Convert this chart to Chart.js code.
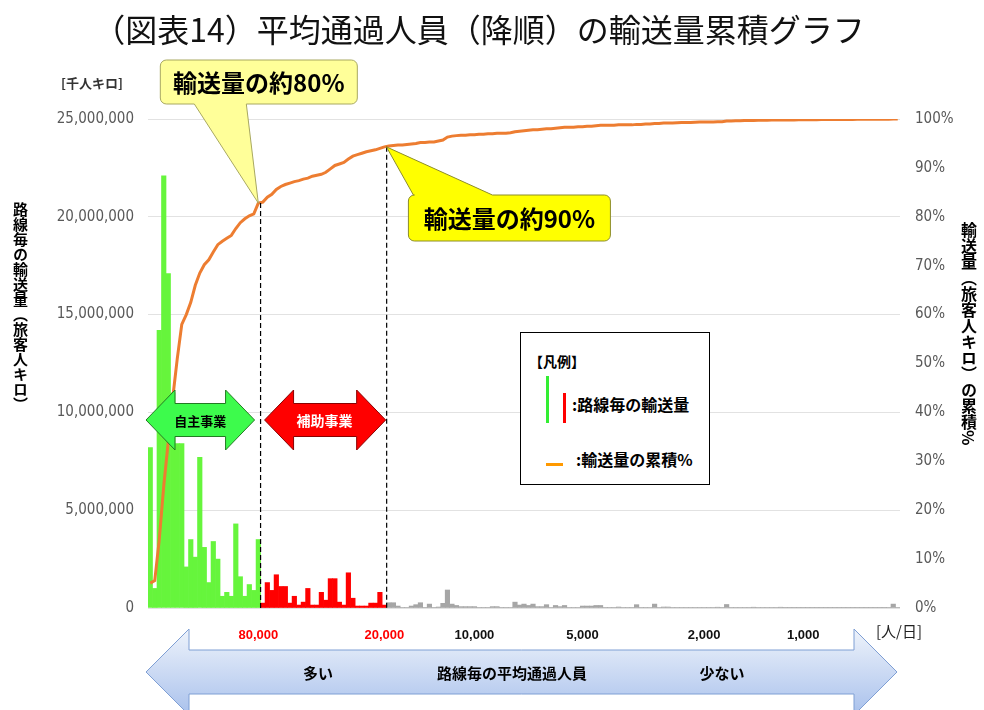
<!DOCTYPE html>
<html>
<head>
<meta charset="utf-8">
<script src="https://cdn.jsdelivr.net/npm/chart.js@4.4.0/dist/chart.umd.min.js"></script>
<style>
  body { margin: 0; background: #fff; font-family: 'Noto Sans CJK JP', sans-serif; }
  #wrap { position: relative; width: 984px; height: 710px; overflow: hidden; }
  #c { position: absolute; left: 0; top: 0; }
  .abs { position: absolute; white-space: nowrap; }
  #title { left: -13px; width: 984px; top: 6px; text-align: center; font-size: 32px; line-height: 44px; color: #111; font-weight: 400; }
  #unit { left: 61px; top: 74px; font-size: 13px; font-weight: bold; color: #333; line-height: 18px; }
  .vt { position: absolute; writing-mode: vertical-rl; font-weight: bold; color: #000; line-height: 16px; }
  #legend { left: 520px; top: 332px; width: 188px; height: 151px; border: 1.5px solid #000; background: #fff; }
  #legend div { position: absolute; }
  .lt { font-size: 16px; font-weight: bold; color: #000; line-height: 18px; white-space: nowrap; }
</style>
</head>
<body>
<div id="wrap">
  <canvas id="c" width="984" height="710"></canvas>
  <div id="title" class="abs">（図表14）平均通過人員（降順）の輸送量累積グラフ</div>
  <div id="unit" class="abs">[千人キロ]</div>
  <div class="vt" style="left:12px; top:202px; font-size:15px;">路線毎の輸送量（旅客人キロ）</div>
  <div class="vt" style="left:961px; top:222px; font-size:16px;">輸送量（旅客人キロ）の累積%</div>
  <div id="legend" class="abs">
    <div class="lt" style="left:8px; top:19px; font-size:14px;">【凡例】</div>
    <div style="left:25px; top:43px; width:3px; height:47px; background:#33ee33;"></div>
    <div style="left:42px; top:60px; width:3px; height:30px; background:#ff0000;"></div>
    <div class="lt" style="left:51px; top:62px;">:路線毎の輸送量</div>
    <div style="left:25px; top:130px; width:17px; height:3px; background:#ff9900;"></div>
    <div class="lt" style="left:55px; top:117px;">:輸送量の累積%</div>
  </div>
</div>
<script>
// 路線毎の輸送量（百万千人キロ） 平均通過人員の降順
const greenVals = [8.2, 1.0, 14.2, 22.1, 17.1, 11.0, 8.4, 8.4, 2.1, 3.5, 2.6, 7.7, 3.1, 1.3, 3.4, 2.5, 0.6, 0.8, 0.6, 4.3, 1.6, 0.6, 1.2, 0.9, 3.5];
const redVals = [0.25, 1.3, 0.9, 1.7, 1.1, 1.1, 0.25, 0.6, 0.15, 0.3, 1.0, 0.15, 0.15, 0.8, 0.4, 1.5, 1.5, 0.3, 0.15, 1.8, 0.5, 0.1, 0.1, 0.1, 0.25, 0.25, 0.8, 0.15];
const grayVals = [
  0.27, 0.27, 0.10, 0.03, 0.03, 0.10, 0.17, 0.27, 0.02, 0.20,
  0.02, 0.05, 0.24, 0.92, 0.20, 0.13, 0.07, 0.07, 0.07, 0.07,
  0.02, 0.02, 0.02, 0.07, 0.07, 0.02, 0.02, 0.03, 0.30, 0.15,
  0.20, 0.13, 0.20, 0.07, 0.07, 0.17, 0.03, 0.13, 0.07, 0.13,
  0.03, 0.03, 0.03, 0.10, 0.10, 0.10, 0.13, 0.13, 0.02, 0.02,
  0.02, 0.05, 0.02, 0.02, 0.02, 0.17, 0.02, 0.02, 0.03, 0.20,
  0.03, 0.05, 0.05, 0.02, 0.02, 0.02, 0.02, 0.02, 0.02, 0.02,
  0.02, 0.02, 0.02, 0.04, 0.02, 0.18, 0.02, 0.02, 0.02, 0.02,
  0.02, 0.04, 0.02, 0.02, 0.02, 0.02, 0.02, 0.04, 0.015, 0.015,
  0.015, 0.015, 0.015, 0.015, 0.015, 0.015, 0.015, 0.015, 0.015, 0.015,
  0.015, 0.015, 0.015, 0.015, 0.015, 0.015, 0.015, 0.015, 0.015, 0.015,
  0.015, 0.02, 0.20, 0.02
];

// 輸送量の累積%
const greenPct = [5.1, 5.6, 14, 25, 34, 43, 51, 58, 60, 62.5, 66, 68.5, 70.2, 71.2, 72.8, 74.3, 75.0, 75.6, 76.2, 77.6, 78.8, 79.6, 80.2, 80.6, 82.8];
const redPct = [83.0, 84.0, 84.6, 85.6, 86.2, 86.6, 86.9, 87.2, 87.4, 87.7, 87.9, 88.3, 88.5, 88.7, 89.1, 89.8, 90.5, 90.8, 91.1, 91.8, 92.4, 92.7, 93.0, 93.3, 93.5, 93.7, 94.0, 94.3];
const grayPct = [
  94.5, 94.6, 94.7, 94.7, 94.8, 94.9, 95.0, 95.2, 95.2, 95.3,
  95.3, 95.5, 95.7, 96.3, 96.5, 96.6, 96.7, 96.7, 96.8, 96.8,
  96.9, 96.9, 97.0, 97.0, 97.1, 97.1, 97.1, 97.2, 97.4, 97.5,
  97.6, 97.7, 97.8, 97.8, 97.9, 98.0, 98.0, 98.1, 98.2, 98.3,
  98.3, 98.3, 98.4, 98.4, 98.5, 98.5, 98.6, 98.7, 98.7, 98.7,
  98.7, 98.8, 98.8, 98.8, 98.8, 98.9, 98.9, 99.0, 99.0, 99.1,
  99.1, 99.2, 99.2, 99.2, 99.25, 99.3, 99.3, 99.3, 99.35, 99.4,
  99.4, 99.4, 99.4, 99.45, 99.45, 99.6, 99.6, 99.65, 99.65, 99.7,
  99.7, 99.7, 99.75, 99.75, 99.75, 99.8, 99.8, 99.8, 99.8, 99.8,
  99.82, 99.83, 99.84, 99.85, 99.86, 99.87, 99.88, 99.88, 99.89, 99.9,
  99.9, 99.91, 99.92, 99.92, 99.93, 99.93, 99.94, 99.94, 99.95, 99.95,
  99.95, 99.96, 100, 100
];

// 平均通過人員 [人/日] の目盛
const passTicks = ['80,000', '20,000', '10,000', '5,000', '2,000', '1,000'];
const passTickIdx = [24, 52, 72, 96, 123, 145];

const barVals = greenVals.concat(redVals, grayVals);
const cumPct = greenPct.concat(redPct, grayPct);
const routeNo = barVals.map((v, i) => i + 1);
const barColors = barVals.map((v, i) =>
  i < greenVals.length ? '#66f53c' : (i < greenVals.length + redVals.length ? '#ff0000' : '#a6a6a6'));

const tickFamily = '"DejaVu Sans Condensed", "Liberation Sans", sans-serif';

function dblArrow(ctx, x0, x1, yc, shaftH, headH, headL) {
  ctx.beginPath();
  ctx.moveTo(x0, yc);
  ctx.lineTo(x0 + headL, yc - headH / 2);
  ctx.lineTo(x0 + headL, yc - shaftH / 2);
  ctx.lineTo(x1 - headL, yc - shaftH / 2);
  ctx.lineTo(x1 - headL, yc - headH / 2);
  ctx.lineTo(x1, yc);
  ctx.lineTo(x1 - headL, yc + headH / 2);
  ctx.lineTo(x1 - headL, yc + shaftH / 2);
  ctx.lineTo(x0 + headL, yc + shaftH / 2);
  ctx.lineTo(x0 + headL, yc + headH / 2);
  ctx.closePath();
}

// rounded box with a pointer leaving the top or bottom edge
function callout(ctx, x, y, w, h, r, side, b0, b1, tip, fill, stroke, text) {
  ctx.beginPath();
  ctx.moveTo(x + r, y);
  if (side === 'top') { ctx.lineTo(b0, y); ctx.lineTo(tip.x, tip.y); ctx.lineTo(b1, y); }
  ctx.lineTo(x + w - r, y);
  ctx.arcTo(x + w, y, x + w, y + r, r);
  ctx.lineTo(x + w, y + h - r);
  ctx.arcTo(x + w, y + h, x + w - r, y + h, r);
  if (side === 'bottom') { ctx.lineTo(b1, y + h); ctx.lineTo(tip.x, tip.y); ctx.lineTo(b0, y + h); }
  ctx.lineTo(x + r, y + h);
  ctx.arcTo(x, y + h, x, y + h - r, r);
  ctx.lineTo(x, y + r);
  ctx.arcTo(x, y, x + r, y, r);
  ctx.closePath();
  ctx.fillStyle = fill;
  ctx.fill();
  ctx.lineWidth = 1;
  ctx.strokeStyle = stroke;
  ctx.stroke();
  ctx.fillStyle = '#000';
  ctx.font = 'bold 24px "Noto Sans CJK JP"';
  ctx.textAlign = 'center';
  ctx.textBaseline = 'middle';
  ctx.fillText(text, x + w / 2, y + h / 2 + 1);
}

const annot = {
  id: 'annot',
  afterDatasetsDraw(chart) {
    const { ctx, chartArea: a, scales: { x, y1 } } = chart;
    const n80 = greenVals.length - 1;
    const n90 = greenVals.length + redVals.length - 1;
    const b80 = (x.getPixelForValue(n80) + x.getPixelForValue(n80 + 1)) / 2;
    const b90 = (x.getPixelForValue(n90) + x.getPixelForValue(n90 + 1)) / 2;
    const p80 = { x: x.getPixelForValue(n80), y: y1.getPixelForValue(cumPct[n80]) };
    const p90 = { x: x.getPixelForValue(n90) + 2, y: y1.getPixelForValue(cumPct[n90]) };

    ctx.save();
    // dashed boundaries
    ctx.setLineDash([5, 3]);
    ctx.strokeStyle = '#000';
    ctx.lineWidth = 1.2;
    [[b80, p80.y], [b90, p90.y]].forEach(([bx, by]) => {
      ctx.beginPath();
      ctx.moveTo(bx, by);
      ctx.lineTo(bx, a.bottom);
      ctx.stroke();
    });
    ctx.setLineDash([]);

    // 自主事業 / 補助事業 arrows
    const yc = 420;
    dblArrow(ctx, a.left - 2, b80 - 6, yc, 33, 60, 29);
    ctx.fillStyle = '#3dfb4c';
    ctx.fill();
    ctx.strokeStyle = '#237a23';
    ctx.lineWidth = 1;
    ctx.stroke();
    dblArrow(ctx, b80 + 4, b90 - 1, yc, 33, 60, 29);
    ctx.fillStyle = '#ff0000';
    ctx.fill();
    ctx.strokeStyle = '#8a0000';
    ctx.stroke();
    ctx.textAlign = 'center';
    ctx.textBaseline = 'middle';
    ctx.font = 'bold 13px "Noto Sans CJK JP"';
    ctx.fillStyle = '#000';
    ctx.fillText('自主事業', (a.left + b80) / 2 - 4, yc + 1);
    ctx.font = 'bold 14px "Noto Sans CJK JP"';
    ctx.fillStyle = '#fff';
    ctx.fillText('補助事業', (b80 + b90) / 2 + 1, yc + 1);

    // callouts
    callout(ctx, p80.x - 98, 60, 197, 44, 6, 'bottom', p80.x - 64, p80.x - 12, p80, '#ffff99', '#a8a860', '輸送量の約80%');
    callout(ctx, p90.x + 22, 195, 202, 46, 6, 'top', p90.x + 27, p90.x + 106, p90, '#ffff00', '#8c8c2a', '輸送量の約90%');
    ctx.restore();
  },
  afterDraw(chart) {
    const { ctx, chartArea: a } = chart;
    ctx.save();
    // 平均通過人員の大きな矢印
    const yc = 672;
    dblArrow(ctx, a.left - 2, a.right - 3, yc, 44, 86, 43);
    const g = ctx.createLinearGradient(0, yc - 43, 0, yc + 43);
    g.addColorStop(0, '#eef3fb');
    g.addColorStop(1, '#a9c1ec');
    ctx.fillStyle = g;
    ctx.fill();
    ctx.strokeStyle = '#7f9fd4';
    ctx.lineWidth = 1;
    ctx.stroke();
    ctx.fillStyle = '#000';
    ctx.font = 'bold 15px "Noto Sans CJK JP"';
    ctx.textAlign = 'center';
    ctx.textBaseline = 'middle';
    ctx.fillText('多い', 318, yc + 1);
    ctx.fillText('路線毎の平均通過人員', 512, yc + 1);
    ctx.fillText('少ない', 722, yc + 1);
    ctx.font = '15px "Noto Sans CJK JP"';
    ctx.fillStyle = '#222';
    ctx.textAlign = 'left';
    ctx.fillText('[人/日]', 876, 631);
    ctx.restore();
  }
};

new Chart(document.getElementById('c').getContext('2d'), {
  type: 'bar',
  data: {
    labels: routeNo,
    datasets: [
      {
        type: 'line',
        data: cumPct,
        yAxisID: 'y1',
        borderColor: '#ed7d31',
        borderWidth: 3,
        pointRadius: 0,
        tension: 0,
        order: 0
      },
      {
        type: 'bar',
        data: barVals,
        yAxisID: 'y',
        backgroundColor: barColors,
        barPercentage: 1,
        categoryPercentage: 1,
        order: 1
      }
    ]
  },
  options: {
    responsive: false,
    animation: false,
    layout: { padding: { top: 119, left: 0, right: 0, bottom: 0 } },
    plugins: { legend: { display: false }, tooltip: { enabled: false } },
    scales: {
      x: {
        grid: { display: false },
        border: { display: false },
        ticks: {
          autoSkip: false,
          maxRotation: 0,
          minRotation: 0,
          padding: 12,
          font: { family: 'Liberation Sans', size: 13, weight: 'bold' },
          color: c => (c.index <= passTickIdx[1] ? '#ff0000' : '#111'),
          callback: (v, i) => {
            const k = passTickIdx.indexOf(i);
            return k >= 0 ? passTicks[k] : '';
          }
        },
        afterFit: s => { s.height = 102; }
      },
      y: {
        position: 'left',
        min: 0,
        max: 25,
        ticks: {
          stepSize: 5,
          padding: 14,
          color: '#595959',
          font: { family: tickFamily, size: 15 },
          callback: v => (v * 1000000).toLocaleString('en-US')
        },
        grid: { color: '#e2e2e2', drawTicks: false },
        border: { display: false },
        afterFit: s => { s.width = 148; }
      },
      y1: {
        position: 'right',
        min: 0,
        max: 100,
        ticks: {
          stepSize: 10,
          padding: 15,
          color: '#595959',
          font: { family: tickFamily, size: 15 },
          callback: v => v + '%'
        },
        grid: { drawOnChartArea: false, drawTicks: false },
        border: { display: false },
        afterFit: s => { s.width = 84; }
      }
    }
  },
  plugins: [annot]
});
</script>
</body>
</html>
